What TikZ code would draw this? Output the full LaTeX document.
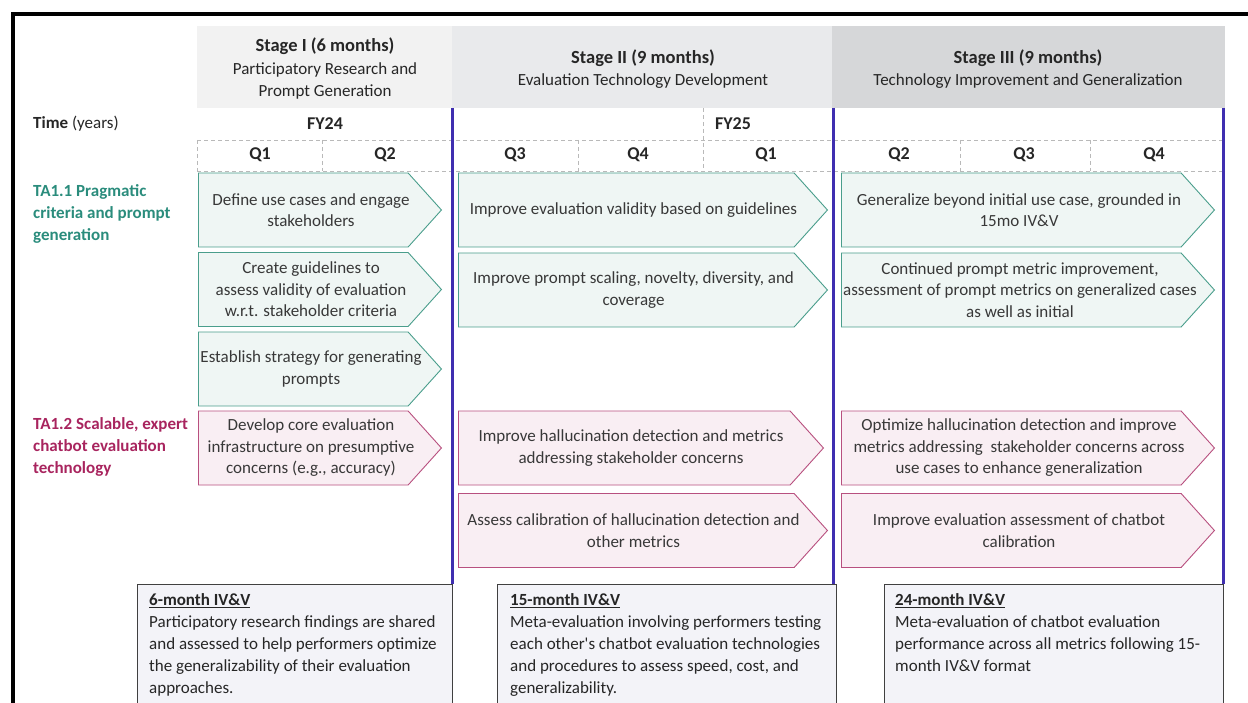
\documentclass[tikz,border=0pt]{standalone}
\usepackage{fontspec}
\setmainfont{Carlito}
\usetikzlibrary{shapes.symbols}
\definecolor{hdrone}{HTML}{F2F2F2}
\definecolor{hdrtwo}{HTML}{E9EAEC}
\definecolor{hdrthree}{HTML}{D6D7D9}
\definecolor{pviolet}{HTML}{3F2FB0}
\definecolor{tteal}{HTML}{2A8C7C}
\definecolor{tline}{HTML}{4A9E8C}
\definecolor{tfill}{HTML}{EFF6F4}
\definecolor{mrose}{HTML}{A8245E}
\definecolor{mline}{HTML}{B8507F}
\definecolor{mfill}{HTML}{F9EEF3}
\definecolor{nfill}{HTML}{F3F3F8}
\definecolor{txtgray}{HTML}{383838}
\newcommand{\stagefont}{\fontsize{18.5}{22.5}\selectfont\bfseries}

\begin{document}
\begin{tikzpicture}[x=1pt,y=-1pt,font=\fontsize{17}{21.5}\selectfont,text=txtgray,
  hdr/.style={align=center,text=black!85,font=\fontsize{17}{22.5}\selectfont},
  qtr/.style={font=\fontsize{18}{20}\selectfont\bfseries,text=black!85},
  grid/.style={gray!55,dashed,dash pattern=on 4pt off 3pt,line width=0.7pt},
  stg/.style={pviolet,line width=3pt},
  ta/.style={anchor=west,align=left,inner sep=0pt,font=\fontsize{17}{22}\selectfont\bfseries},
  chev/.style={signal,signal to=east,signal pointer angle=96,draw,line width=0.9pt,
    anchor=west,inner sep=0pt,minimum height=74pt},
  teal/.style={chev,draw=tline,fill=tfill},
  rose/.style={chev,draw=mline,fill=mfill},
  chevtxt/.style={align=center,inner sep=0pt},
  note/.style={draw=black!75,fill=nfill,line width=0.8pt},
  notetxt/.style={anchor=north west,align=left,inner sep=0pt,text=black!85,
    font=\fontsize{17}{22}\selectfont}]
\useasboundingbox (0,0) rectangle (1248,703);
% --- outer frame ---
\draw[line width=4pt] (13,703) -- (13,14) -- (1250,14);
% --- stage headers ---
\fill[hdrone] (197,26) rectangle (452,108);
\fill[hdrtwo] (452,26) rectangle (832,108);
\fill[hdrthree] (832,26) rectangle (1225,108);
\node[hdr] (h1) at (325,69) {{\stagefont Stage I (6 months)}\\Participatory Research and\\Prompt Generation};
\node[hdr] (h2) at (643,69) {{\stagefont Stage II (9 months)}\\Evaluation Technology Development};
\node[hdr] (h3) at (1028,69) {{\stagefont Stage III (9 months)}\\Technology Improvement and Generalization};
% --- time axis ---
\node[anchor=west,inner sep=0pt,text=black!85] (time) at (33,124) {\textbf{Time} (years)};
\node[qtr] (fy24) at (325,124) {FY24};
\node[qtr] (fy25) at (733,124) {FY25};
\draw[grid] (197,140) -- (1225,140);
\draw[grid] (197,171) -- (1225,171);
\draw[grid] (703,108) -- (703,171);
\foreach \gx in {197,322,578,960,1090}
  \draw[grid] (\gx,140) -- (\gx,171);
\foreach \qx/\ql in {260/Q1,385/Q2,515/Q3,638/Q4,766/Q1,899/Q2,1024/Q3,1154/Q4}
  \node[qtr] at (\qx,155) {\ql};
% --- stage boundaries ---
\draw[stg] (452,108) -- (452,584);
\draw[stg] (833,108) -- (833,584);
\draw[stg] (1223,108) -- (1223,584);
% --- thrust areas ---
\node[ta,text=tteal] (ta11) at (33,214) {TA1.1 Pragmatic\\criteria and prompt\\generation};
\node[ta,text=mrose] (ta12) at (33,447) {TA1.2 Scalable, expert\\chatbot evaluation\\technology};
% --- stage I tasks ---
\node[teal,minimum width=243pt] (a1) at (198,210) {};
\node[teal,minimum width=243pt] (a2) at (198,289.5) {};
\node[teal,minimum width=243pt] (a3) at (198,369) {};
\node[rose,minimum width=243pt] (b1) at (198,448) {};
\node[chevtxt] (a1t) at (311,210) {Define use cases and engage\\stakeholders};
\node[chevtxt] (a2t) at (311,289.5) {Create guidelines to\\assess validity of evaluation\\w.r.t. stakeholder criteria};
\node[chevtxt] (a3t) at (311,369) {Establish strategy for generating\\prompts};
\node[chevtxt] (b1t) at (311,448) {Develop core evaluation\\infrastructure on presumptive\\concerns (e.g., accuracy)};
% --- stage II tasks ---
\node[teal,minimum width=369pt] (a4) at (458,210) {};
\node[teal,minimum width=369pt] (a5) at (458,290) {};
\node[rose,minimum width=365pt] (b2) at (458,448) {};
\node[rose,minimum width=369pt] (b3) at (458,530.5) {};
\node[chevtxt] (a4t) at (633.5,210) {Improve evaluation validity based on guidelines};
\node[chevtxt] (a5t) at (633.5,290) {Improve prompt scaling, novelty, diversity, and\\coverage};
\node[chevtxt] (b2t) at (631,448) {Improve hallucination detection and metrics\\addressing stakeholder concerns};
\node[chevtxt] (b3t) at (633.5,530.5) {Assess calibration of hallucination detection and\\other metrics};
% --- stage III tasks ---
\node[teal,minimum width=373pt] (a6) at (841,210) {};
\node[teal,minimum width=373pt] (a7) at (841,290) {};
\node[rose,minimum width=373pt] (b4) at (841,448) {};
\node[rose,minimum width=373pt] (b5) at (841,530.5) {};
\node[chevtxt] (a6t) at (1019,210) {Generalize beyond initial use case, grounded in\\15mo IV\&V};
\node[chevtxt] (a7t) at (1020,290) {Continued prompt metric improvement,\\assessment of prompt metrics on generalized cases\\as well as initial};
\node[chevtxt] (b4t) at (1019,448) {Optimize hallucination detection and improve\\metrics addressing\ \ stakeholder concerns across\\use cases to enhance generalization};
\node[chevtxt] (b5t) at (1019,530.5) {Improve evaluation assessment of chatbot\\calibration};
% --- IV&V checkpoints ---
\draw[note] (137,584) rectangle (452,712);
\draw[note] (497,584) rectangle (836,712);
\draw[note] (884,584) rectangle (1223,712);
\node[notetxt] (n1) at (149,593.5) {\underline{\textbf{6-month IV\&V}}\\Participatory research findings are shared\\and assessed to help performers optimize\\the generalizability of their evaluation\\approaches.};
\node[notetxt] (n2) at (510,593.5) {\underline{\textbf{15-month IV\&V}}\\Meta-evaluation involving performers testing\\each other\textquotesingle s chatbot evaluation technologies\\and procedures to assess speed, cost, and\\generalizability.};
\node[notetxt] (n3) at (895,593.5) {\underline{\textbf{24-month IV\&V}}\\Meta-evaluation of chatbot evaluation\\performance across all metrics following 15-\\month IV\&V format};
\end{tikzpicture}
\end{document}
